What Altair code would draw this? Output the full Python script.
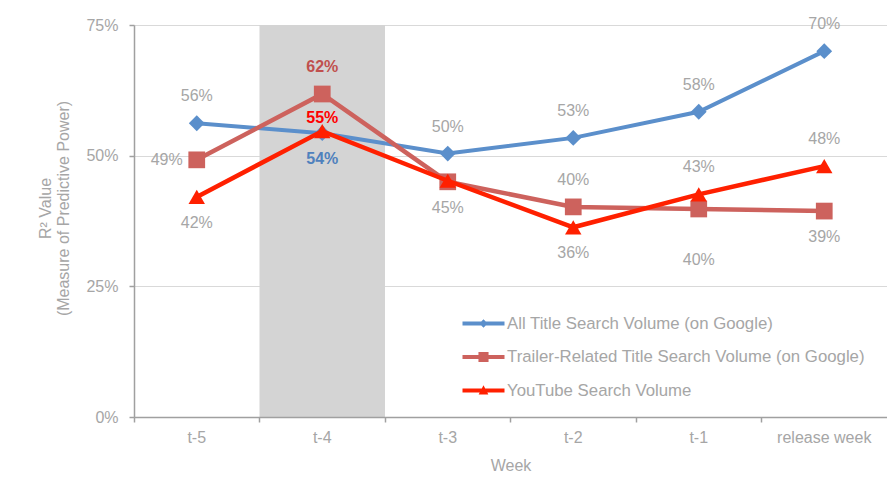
import altair as alt
import pandas as pd

# ---------------- data ----------------
weeks = ["t-5", "t-4", "t-3", "t-2", "t-1", "release week"]
series = [
    "All Title Search Volume (on Google)",
    "Trailer-Related Title Search Volume (on Google)",
    "YouTube Search Volume",
]
all_title = [0.562, 0.543, 0.504, 0.534, 0.584, 0.700]
trailer = [0.492, 0.618, 0.450, 0.402, 0.398, 0.394]
youtube = [0.421, 0.547, 0.452, 0.363, 0.426, 0.480]

# where each value label sits relative to its marker
all_title_place = ["above", "below", "above", "above", "above", "above"]
trailer_place = ["left", "above", "below", "above", "below_far", "below"]
youtube_place = ["below", "above_near", "none", "below", "above", "above"]

highlight_week = "t-4"

# ---------------- styles ----------------
FONT = "Liberation Sans"
GRAY_TXT = "#A6A6A6"
AXIS_GRAY = "#A0A0A0"
colors = ["#5B8FCB", "#CD625D", "#FF2000"]
bold_label_colors = ["#4F81BD", "#C0504D", "#FF0000"]
marker_shapes = ["diamond", "square", "triangle-up"]
marker_sizes = [250, 280, 270]
line_widths = [4, 4.5, 4.5]
legend_paths = [
    "M-2,-0.19L2,-0.19L2,0.19L-2,0.19Z M0,-0.4L0.4,0L0,0.4L-0.4,0Z",
    "M-2,-0.19L2,-0.19L2,0.19L-2,0.19Z M-0.48,-0.48L0.48,-0.48L0.48,0.48L-0.48,0.48Z",
    "M-2,-0.19L2,-0.19L2,0.19L-2,0.19Z M0,-0.5L0.46,0.38L-0.46,0.38Z",
]
offsets = {
    "above": (0, -27, "center"),
    "below": (0, 26, "center"),
    "below_far": (0, 51, "center"),
    "above_near": (0, -13, "center"),
    "left": (-14, 0, "right"),
}

rows = []
for s, vals, places in zip(series, [all_title, trailer, youtube],
                           [all_title_place, trailer_place, youtube_place]):
    for i, (w, v, p) in enumerate(zip(weeks, vals, places)):
        rows.append({"series": s, "week": w, "value": v, "place": p, "idx": i})
df = pd.DataFrame(rows)

x_scale = alt.Scale(domain=weeks, paddingInner=0, paddingOuter=0)
y_scale = alt.Scale(domain=[0, 0.75], nice=False, zero=True)

x_axis = alt.Axis(
    title="Week", labelAngle=0, bandPosition=0, tickSize=5,
    domainColor=AXIS_GRAY, domainWidth=1.5, tickColor=AXIS_GRAY, tickWidth=1.5,
    labelColor=GRAY_TXT, labelFontSize=16, labelFont=FONT, labelPadding=7,
    titleColor=GRAY_TXT, titleFontSize=16, titleFont=FONT,
    titleFontWeight="normal", titlePadding=12, grid=False,
)
y_axis = alt.Axis(
    values=[0, 0.25, 0.5, 0.75], format=".0%",
    title=["R² Value", "(Measure of Predictive Power)"],
    grid=True, gridColor="#D9D9D9", gridWidth=1,
    domainColor=AXIS_GRAY, domainWidth=1.5, tickColor=AXIS_GRAY, tickWidth=1.5,
    tickSize=5, labelColor=GRAY_TXT, labelFontSize=16, labelFont=FONT,
    labelPadding=11, titleColor=GRAY_TXT, titleFontSize=16, titleFont=FONT,
    titleFontWeight="normal", titlePadding=14, titleY=183,
)

x_enc = alt.X("week:N", scale=x_scale, sort=weeks, axis=x_axis)
y_enc = alt.Y("value:Q", scale=y_scale, axis=y_axis)

base = alt.Chart(df)

band = alt.Chart(pd.DataFrame({"week": [highlight_week]})).mark_rect(
    color="#D4D4D4"
).encode(
    x=x_enc,
    y=alt.Y(datum=0.75, scale=y_scale, axis=y_axis),
    y2=alt.datum(0),
)

layers = [band]

for i, s in enumerate(series):
    sub = base.transform_filter(alt.datum.series == s)
    layers.append(
        sub.mark_line(color=colors[i], strokeWidth=line_widths[i]).encode(
            x=x_enc, y=y_enc, order=alt.Order("idx:Q"),
        )
    )
    layers.append(
        sub.mark_point(
            shape=marker_shapes[i], filled=True, opacity=1,
            color=colors[i], size=marker_sizes[i],
        ).encode(x=x_enc, y=y_enc)
    )

# value labels
for i, s in enumerate(series):
    for kind, (dx, dy, align) in offsets.items():
        for bold in (False, True):
            cond = (alt.datum.series == s) & (alt.datum.place == kind)
            cond = cond & ((alt.datum.week == highlight_week) if bold
                           else (alt.datum.week != highlight_week))
            layers.append(
                base.transform_filter(cond).mark_text(
                    dx=dx, dy=dy, align=align, baseline="middle",
                    font=FONT, fontSize=16,
                    fontWeight="bold" if bold else "normal",
                    color=bold_label_colors[i] if bold else GRAY_TXT,
                ).encode(
                    x=x_enc, y=y_enc,
                    text=alt.Text("value:Q", format=".0%"),
                )
            )

# legend (from scales only; no visible marks)
leg = alt.Legend(
    title=None, orient="none", legendX=339, legendY=288,
    labelFont=FONT, labelFontSize=16.8, labelColor=GRAY_TXT, labelLimit=0,
    symbolSize=441, symbolStrokeWidth=0, labelOffset=13, rowPadding=13.5,
    symbolOpacity=1,
)
layers.append(
    base.transform_filter("false").mark_point(filled=True, strokeWidth=0).encode(
        x=x_enc, y=y_enc,
        color=alt.Color("series:N", scale=alt.Scale(domain=series, range=colors), legend=leg),
        shape=alt.Shape("series:N", scale=alt.Scale(domain=series, range=legend_paths), legend=leg),
    )
)

chart = (
    alt.layer(*layers)
    .properties(
        width=753, height=392,
        autosize=alt.AutoSizeParams(type="none"),
        padding={"left": 126, "top": 17, "right": 0, "bottom": 58},
    )
    .configure_view(stroke=None)
    .configure(font=FONT, background="white")
)

chart.save("out.html", embed_options={"renderer": "svg", "actions": False})
